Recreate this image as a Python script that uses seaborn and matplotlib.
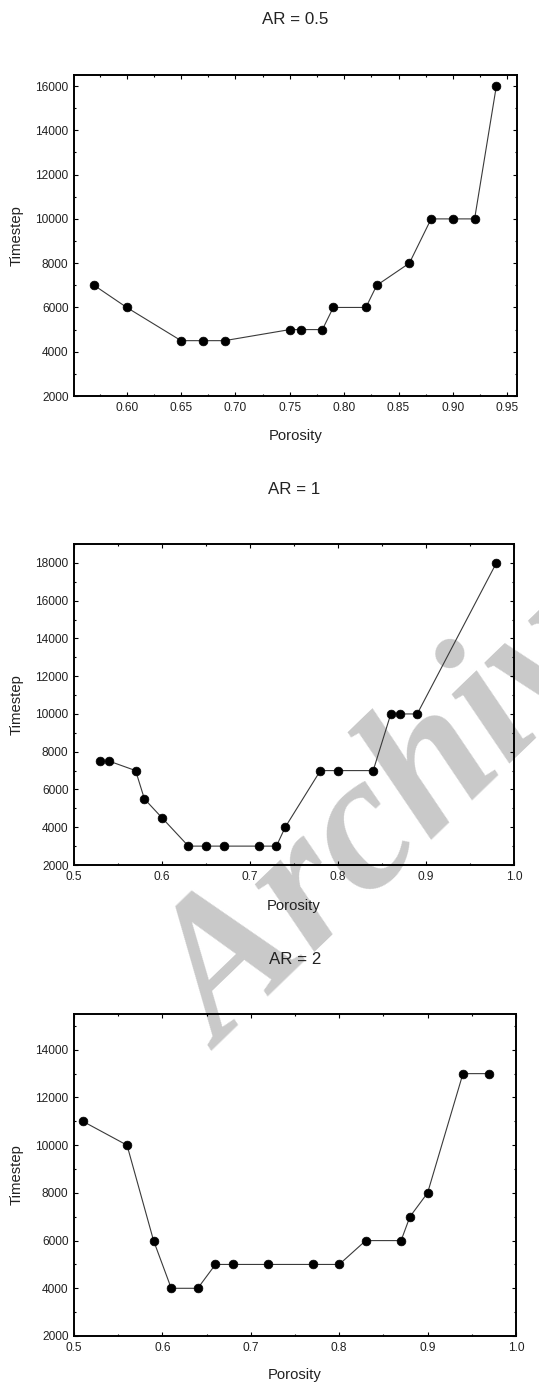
import matplotlib
matplotlib.use("Agg")
import matplotlib.pyplot as plt
from matplotlib.ticker import MultipleLocator, FixedLocator, FormatStrFormatter
import seaborn as sns
import pandas as pd

# Time steps needed at each porosity, for three aspect ratios
ar05_porosity = [0.57, 0.60, 0.65, 0.67, 0.69, 0.75, 0.76, 0.78, 0.79, 0.82,
                 0.83, 0.86, 0.88, 0.90, 0.92, 0.94]
ar05_timestep = [7000, 6000, 4500, 4500, 4500, 5000, 5000, 5000, 6000, 6000,
                 7000, 8000, 10000, 10000, 10000, 16000]

ar1_porosity = [0.53, 0.54, 0.57, 0.58, 0.60, 0.63, 0.65, 0.67, 0.71, 0.73,
                0.74, 0.78, 0.80, 0.84, 0.86, 0.87, 0.89, 0.98]
ar1_timestep = [7500, 7500, 7000, 5500, 4500, 3000, 3000, 3000, 3000, 3000,
                4000, 7000, 7000, 7000, 10000, 10000, 10000, 18000]

ar2_porosity = [0.51, 0.56, 0.59, 0.61, 0.64, 0.66, 0.68, 0.72, 0.77, 0.80,
                0.83, 0.87, 0.88, 0.90, 0.94, 0.97]
ar2_timestep = [11000, 10000, 6000, 4000, 4000, 5000, 5000, 5000, 5000, 5000,
                6000, 6000, 7000, 8000, 13000, 13000]

titles = ["AR = 0.5", "AR = 1", "AR = 2"]

sns.set_theme(style="ticks")
plt.rcParams["font.family"] = ["Liberation Sans", "DejaVu Sans"]

W, H = 539, 1384
fig = plt.figure(figsize=(W / 100, H / 100), dpi=100)

# panel boxes in pixels: left, top, right, bottom
boxes = [(74, 75, 517, 396), (74, 544, 514, 865), (74, 1014, 516, 1336)]
title_y = [20, 489, 959]
xlabel_y = [436, 906, 1375]

panels = [
    (ar05_porosity, ar05_timestep, (0.5515, 0.959), (2000, 16500), 0.05, "%.2f",
     [0.60, 0.65, 0.70, 0.75, 0.80, 0.85, 0.90, 0.95]),
    (ar1_porosity, ar1_timestep, (0.5, 1.0), (2000, 19000), 0.1, "%.1f", None),
    (ar2_porosity, ar2_timestep, (0.5, 1.0), (2000, 15500), 0.1, "%.1f", None),
]

for i, (px, py, xlim, ylim, xstep, xfmt, xticks) in enumerate(panels):
    l, t, r, b = boxes[i]
    ax = fig.add_axes([l / W, 1 - b / H, (r - l) / W, (b - t) / H])
    ax.set_facecolor("none")
    df = pd.DataFrame({"Porosity": px, "Timestep": py})
    sns.lineplot(data=df, x="Porosity", y="Timestep", ax=ax, color="#3a3a3a",
                 linewidth=0.8, marker="o", markersize=6.3,
                 markerfacecolor="black", markeredgecolor="black",
                 markeredgewidth=0.5)
    ax.set_xlim(*xlim)
    ax.set_ylim(*ylim)
    if xticks is not None:
        ax.xaxis.set_major_locator(FixedLocator(xticks))
    else:
        ax.xaxis.set_major_locator(MultipleLocator(xstep))
    ax.xaxis.set_minor_locator(MultipleLocator(xstep / 2))
    ax.xaxis.set_major_formatter(FormatStrFormatter(xfmt))
    ax.yaxis.set_major_locator(MultipleLocator(2000))
    ax.yaxis.set_minor_locator(MultipleLocator(1000))
    ax.tick_params(which="both", direction="in", top=True, right=True,
                   colors="black", labelcolor="#222222", width=0.8)
    ax.tick_params(which="major", length=3.2, labelsize=8.6, pad=4)
    ax.tick_params(which="minor", length=1.6)
    for s in ax.spines.values():
        s.set_linewidth(1.4)
        s.set_color("black")
    ax.set_xlabel("Porosity", fontsize=10.7, color="#222222", va="center")
    ax.set_ylabel("Timestep", fontsize=10.7, color="#222222", va="center")
    ax.xaxis.set_label_coords(0.5, -(xlabel_y[i] - b) / (b - t))
    ax.yaxis.set_label_coords(-(l - 17) / (r - l), 0.5)
    fig.text(((l + r) / 2) / W, 1 - title_y[i] / H, titles[i], fontsize=12.2,
             color="#222222", ha="center", va="center")

# grey diagonal watermark, drawn beneath the panels
fig.text(222 / W, 1 - 1052 / H, "Archive", rotation=44, rotation_mode="anchor",
         ha="left", va="baseline", fontsize=140, family="Liberation Serif",
         weight="bold", style="italic", color="#c9c9c9", zorder=-1)

fig.savefig("out.png", dpi=100)
